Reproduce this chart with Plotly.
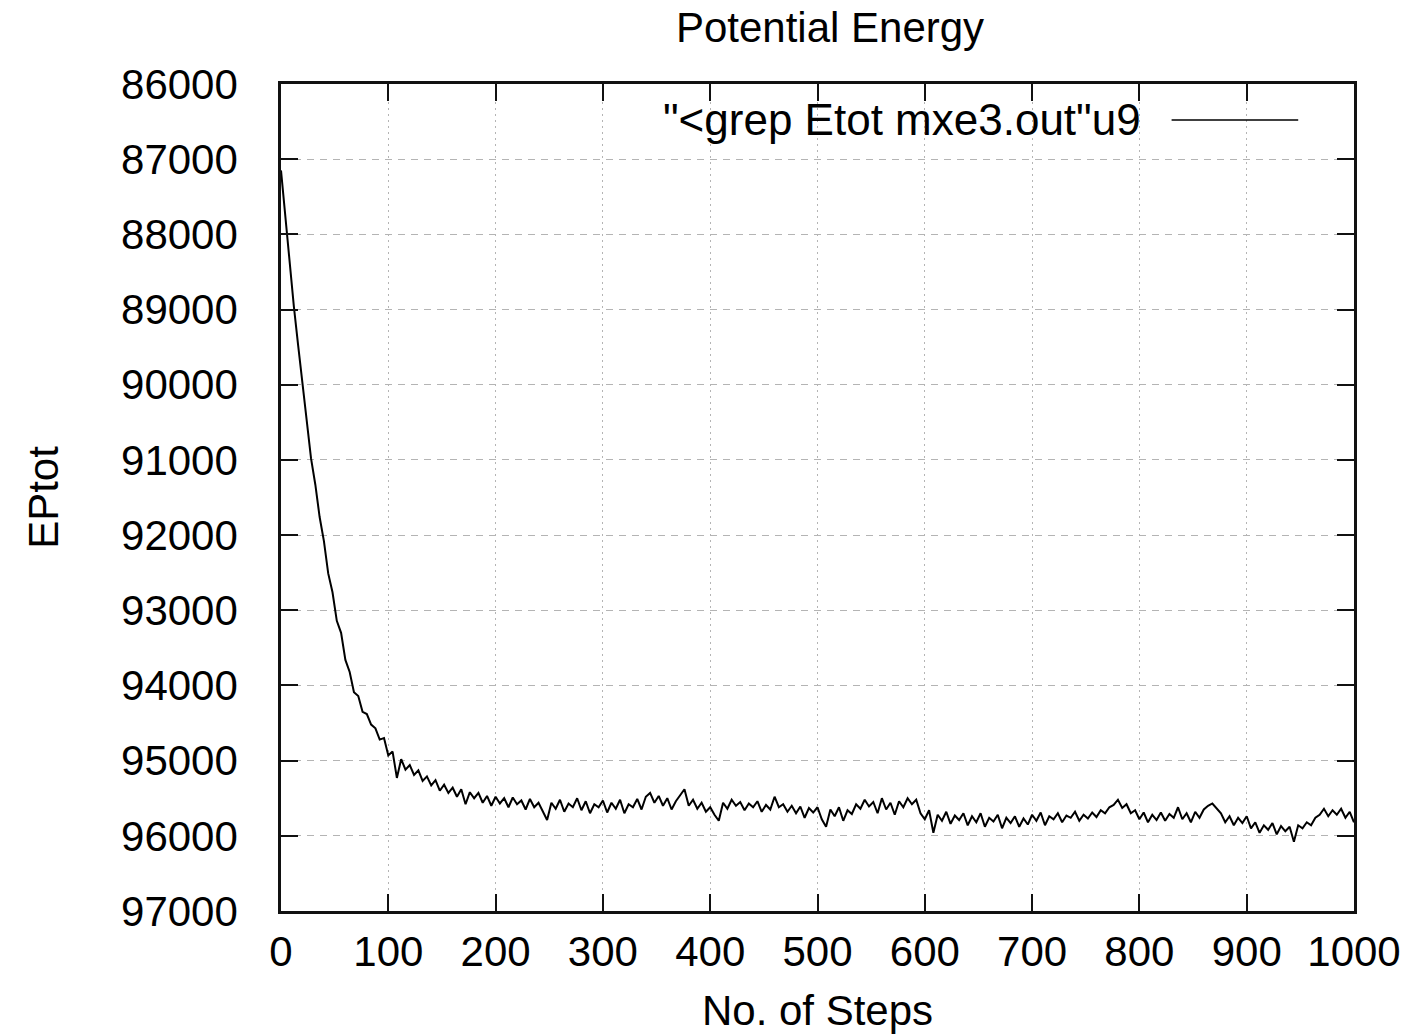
import plotly.graph_objects as go

# ---- data ----
step_interval = 4
epot_values = [
    87150, 87760, 88370, 88960, 89480, 90010, 90470, 90980, 91330, 91760,
    92080, 92510, 92760, 93140, 93300, 93660, 93820, 94090, 94140, 94350,
    94380, 94520, 94570, 94720, 94700, 94930, 94880, 95230, 94980, 95120,
    95060, 95190, 95130, 95270, 95210, 95330, 95260, 95400, 95320, 95430,
    95360, 95480, 95380, 95580, 95420, 95500, 95430, 95560, 95470, 95600,
    95480, 95570, 95500, 95620, 95490, 95580, 95530, 95650, 95510, 95620,
    95560, 95680, 95790, 95560, 95640, 95520, 95680, 95570, 95620, 95500,
    95660, 95540, 95700, 95580, 95620, 95530, 95690, 95560, 95640, 95520,
    95700, 95580, 95620, 95510, 95650, 95480, 95430, 95560, 95470, 95600,
    95500, 95650, 95540, 95460, 95380, 95600, 95520, 95640, 95560, 95680,
    95620, 95720, 95800, 95560, 95640, 95520, 95600, 95550, 95660, 95570,
    95620, 95540, 95680, 95590, 95650, 95480, 95620, 95580, 95680, 95600,
    95700, 95610, 95760, 95630, 95690, 95620, 95780, 95880, 95650, 95740,
    95620, 95800, 95660, 95710, 95580, 95640, 95520, 95610, 95550, 95700,
    95500, 95650, 95560, 95720, 95540, 95620, 95500, 95580, 95520, 95700,
    95780, 95660, 95960, 95720, 95800, 95680, 95840, 95730, 95790, 95700,
    95860, 95740, 95820, 95700, 95880, 95760, 95810, 95720, 95900, 95760,
    95830, 95740, 95880, 95770, 95850, 95720, 95800, 95690, 95860, 95740,
    95780, 95700, 95820, 95730, 95760, 95680, 95800, 95720, 95770, 95690,
    95750, 95660, 95700, 95620, 95590, 95520, 95630, 95580, 95700, 95660,
    95780, 95690, 95820, 95720, 95790, 95690, 95800, 95710, 95760, 95620,
    95780, 95700, 95820, 95680, 95760, 95650, 95600, 95570, 95640, 95700,
    95820, 95740, 95860, 95760, 95830, 95740, 95900, 95820, 95960, 95860,
    95920, 95830, 95980, 95870, 95940, 95880, 96080, 95860, 95900, 95820,
    95860, 95760, 95720, 95640, 95740, 95660, 95720, 95640, 95760, 95680,
    95820,
]
steps = [i * step_interval for i in range(len(epot_values))]

x_ticks = [0, 100, 200, 300, 400, 500, 600, 700, 800, 900, 1000]
y_ticks = [86000, 87000, 88000, 89000, 90000, 91000, 92000, 93000, 94000, 95000, 96000, 97000]

title_text = "Potential Energy"
x_title = "No. of Steps"
y_title = "EPtot"
series_name = '"<grep Etot mxe3.out"u9'

FONT = "Liberation Sans, Arial, sans-serif"
FS = 42

fig = go.Figure()
fig.add_trace(go.Scatter(
    x=steps, y=epot_values, mode="lines", name=series_name,
    line=dict(color="black", width=2), showlegend=False,
))

axis_common = dict(
    showline=True, linecolor="#111111", linewidth=2.5, mirror="ticks",
    ticks="inside", ticklen=17, tickwidth=2, tickcolor="#111111",
    showgrid=True, gridcolor="#b4b4b4", gridwidth=1, zeroline=False,
    tickfont=dict(family=FONT, size=FS, color="black"),
    automargin=False,
)

fig.update_xaxes(
    **axis_common,
    range=[x_ticks[0], x_ticks[-1]], tickvals=x_ticks,
    griddash="2px,4px", ticklabelstandoff=2,
    title=dict(text=x_title, font=dict(family=FONT, size=FS, color="black"), standoff=22),
)
fig.update_yaxes(
    **axis_common,
    range=[y_ticks[-1], y_ticks[0]], tickvals=y_ticks,
    ticktext=[str(v) for v in y_ticks],
    griddash="7px,6px", ticklabelstandoff=32,
    title=dict(text=y_title, font=dict(family=FONT, size=FS, color="black"), standoff=50),
)

# legend (gnuplot style: text then line sample on the right)
fig.add_shape(type="rect", xref="paper", yref="paper",
              x0=0.148, x1=0.950, y0=0.930, y1=0.981,
              fillcolor="white", line=dict(width=0), layer="between")
fig.add_annotation(xref="paper", yref="paper", x=0.803, y=0.9565,
                   text=series_name, showarrow=False, xanchor="right", yanchor="middle",
                   font=dict(family=FONT, size=44, color="black"))
fig.add_shape(type="line", xref="paper", yref="paper",
              x0=0.830, x1=0.948, y0=0.9565, y1=0.9565,
              line=dict(color="black", width=1.6))

fig.update_layout(
    width=1414, height=1034, autosize=False,
    margin=dict(l=281, r=60, t=84, b=123),
    paper_bgcolor="white", plot_bgcolor="white",
    title=dict(text=title_text, x=0.587, xref="container", xanchor="center",
               y=0.974, yref="container", yanchor="middle",
               font=dict(family=FONT, size=FS, color="black")),
    font=dict(family=FONT, size=FS, color="black"),
)

fig.write_html("out.html", config={"displayModeBar": False},
               post_script="document.body.style.margin='0';document.body.style.overflow='hidden';")
